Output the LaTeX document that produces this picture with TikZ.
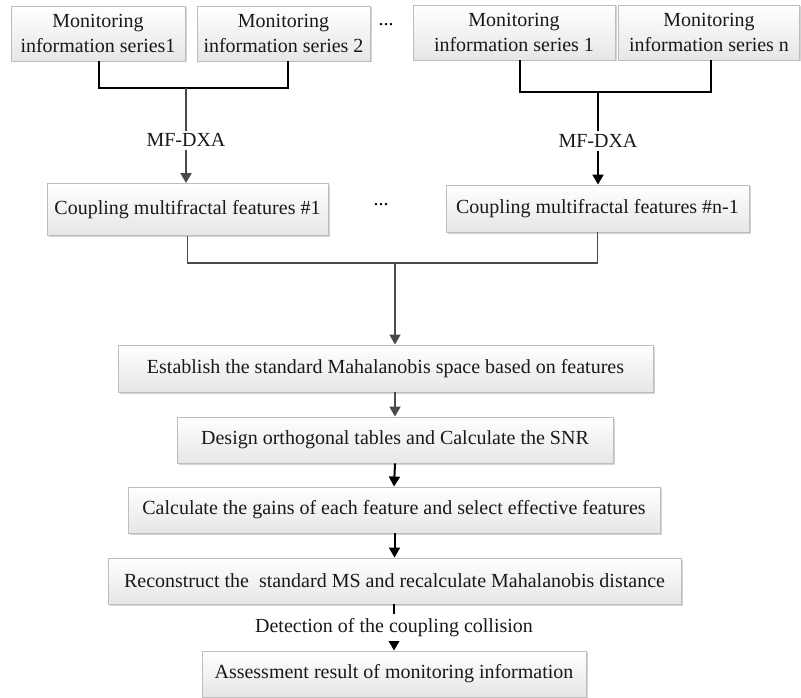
\documentclass[tikz,border=0pt]{standalone}
\usepackage{fontspec}
\setmainfont{Liberation Serif}
\usetikzlibrary{arrows.meta,shadows,calc}
\definecolor{boxline}{HTML}{BDBDBD}
\definecolor{boxbot}{HTML}{E6E6E6}
\definecolor{conngray}{HTML}{4A4A4A}
\tikzset{
  box/.style={draw=boxline, line width=0.9pt, top color=white, bottom color=boxbot,
    drop shadow={shadow xshift=1.5pt, shadow yshift=-1.5pt, opacity=0.35, fill=gray},
    align=center, inner sep=2pt, font=\fontsize{20}{25}\selectfont, text=black!90},
  lbl/.style={fill=white, inner sep=3pt, font=\fontsize{20}{24}\selectfont, text=black!90},
  dots/.style={font=\fontsize{20}{24}\selectfont, inner sep=0pt},
  tip/.style={-{Triangle[length=10pt,width=11pt]}},
  thickblk/.style={line width=2.8pt, black},
  medblk/.style={line width=2pt, black},
  grayln/.style={line width=1.5pt, conngray},
}
\begin{document}
\begin{tikzpicture}[x=1pt,y=-1pt]
\useasboundingbox (0,0) rectangle (801,698);
% top boxes
\node[box, minimum width=174pt, minimum height=55pt] (m1) at (98,33.5) {Monitoring\\information series1};
\node[box, minimum width=173pt, minimum height=55pt] (m2) at (283.5,33.5) {Monitoring\\information series 2};
\node[dots] (d1) at (386,25) {...};
\node[box, minimum width=202pt, minimum height=55pt] (m3) at (514,32.5) {Monitoring\\information series 1};
\node[box, minimum width=181pt, minimum height=55pt] (m4) at (709,32.5) {Monitoring\\information series n};
% coupling boxes
\node[box, minimum width=281pt, minimum height=52pt] (c1) at (187.5,209.5) {Coupling multifractal features \#1};
\node[dots] (d2) at (381,205) {...};
\node[box, minimum width=303pt, minimum height=47pt] (c2) at (597.5,208.5) {Coupling multifractal features \#n-1};
% main chain
\node[box, minimum width=535pt, minimum height=47pt] (e) at (385.5,368.5) {Establish the standard Mahalanobis space based on features};
\node[box, minimum width=436pt, minimum height=46pt] (d) at (395,440) {Design orthogonal tables and Calculate the SNR};
\node[box, minimum width=532pt, minimum height=46pt] (ca) at (394,510) {Calculate the gains of each feature and select effective features};
\node[box, minimum width=573pt, minimum height=46pt] (r) at (394.5,581) {Reconstruct the\ \ standard MS and recalculate Mahalanobis distance};
\node[box, minimum width=384pt, minimum height=46pt] (a) at (394,674) {Assessment result of monitoring information};
% junctions
\coordinate (j1) at (186,88);
\coordinate (j2) at (598,92);
\coordinate (j3) at (395,263);
% top-left connectors
\draw[thickblk] ([xshift=1pt]m1.south) |- (j1) -| ([xshift=4.5pt]m2.south);
\draw[line width=2pt, conngray, tip] (j1) -- node[lbl, pos=0.55] (mf1) {MF-DXA} (j1 |- c1.north);
% top-right connectors
\draw[medblk] ([xshift=6pt]m3.south) |- (j2) -| ([xshift=2pt]m4.south);
\draw[medblk, tip] (j2) -- node[lbl, pos=0.53] (mf2) {MF-DXA} (j2 |- c2.north);
% coupling connector
\draw[grayln] (c1.south) |- (j3) -| (c2.south);
\draw[grayln, tip] (j3) -- (j3 |- e.north);
% chain arrows
\draw[line width=1.8pt, conngray, tip] (e.south -| d.north) -- (d.north);
\draw[medblk, tip] (d.south) -- (ca.north);
\draw[medblk, tip] (ca.south -| r.north) -- (r.north);
\draw[medblk, tip] (r.south -| a.north) -- node[lbl, pos=0.5, inner sep=4pt] (det) {Detection of the coupling collision} (a.north);
\end{tikzpicture}
\end{document}
